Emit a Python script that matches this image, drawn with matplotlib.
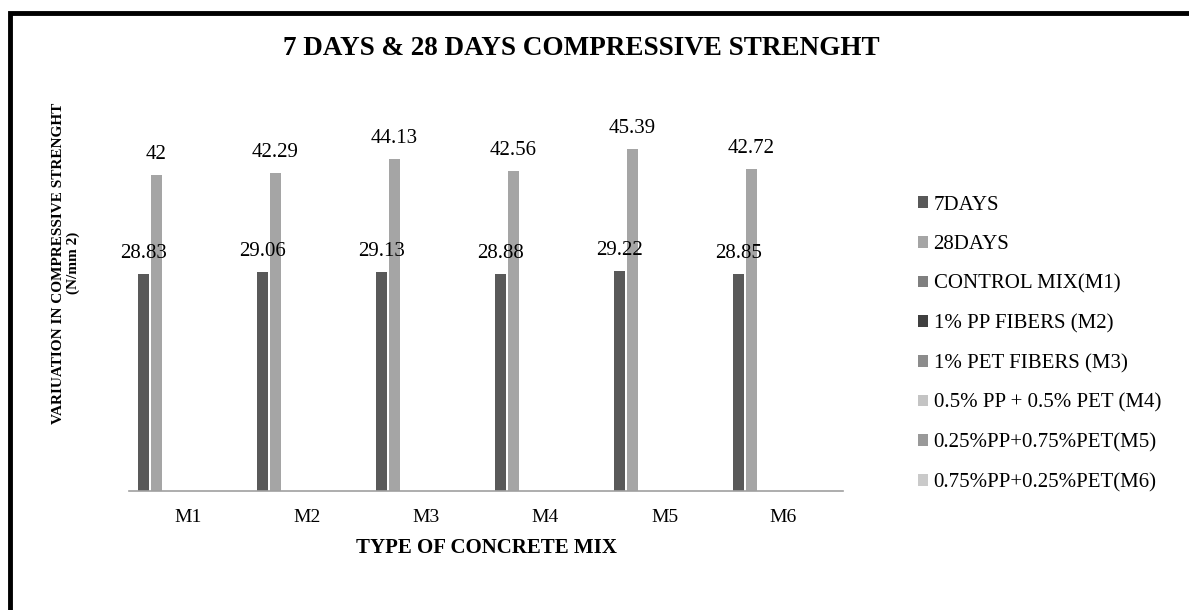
import numpy as np
import matplotlib.pyplot as plt
from matplotlib.patches import Rectangle

plt.rcParams['font.family'] = ['Liberation Serif', 'DejaVu Serif']

# ------------------------------ Data ------------------------------

mixes = ['M1', 'M2', 'M3', 'M4', 'M5', 'M6']
days7 = [28.83, 29.06, 29.13, 28.88, 29.22, 28.85]
days28 = [42, 42.29, 44.13, 42.56, 45.39, 42.72]

# the remaining series hold no values, they only show up in the legend
series_names = ['7DAYS', '28DAYS', 'CONTROL MIX(M1)', '1% PP FIBERS (M2)',
                '1% PET FIBERS (M3)', '0.5% PP + 0.5% PET (M4)',
                '0.25%PP+0.75%PET(M5)', '0.75%PP+0.25%PET(M6)']
series_values = [days7, days28] + [[0] * len(mixes)] * 6
series_colors = ['#595959', '#a5a5a5', '#7f7f7f', '#404040',
                 '#8c8c8c', '#c4c4c4', '#999999', '#cacaca']

# ------------------------------ Plotting ------------------------------

fig = plt.figure(figsize=(11.89, 6.10), dpi=100)
ax = fig.add_axes([0.1085, 0.195, 0.6005, 0.6173])

x = np.arange(len(mixes))
step = 0.109
width = 0.092
handles = []
for i, (name, vals, col) in enumerate(zip(series_names, series_values, series_colors)):
    bars = ax.bar(x + (i - 3.5) * step, vals, width, color=col, label=name, linewidth=0)
    handles.append(bars)
    if i < 2:
        for b, v in zip(bars, vals):
            ax.annotate(f'{v:g}', (b.get_x() + b.get_width() / 2, v),
                        xytext=(0, 11.5), textcoords='offset points',
                        ha='center', va='baseline', fontsize=15)

ax.set_xlim(-0.5, 5.5)
ax.set_ylim(0, 50)
ax.set_xticks(x)
ax.set_xticklabels(mixes, fontsize=14)
ax.tick_params(axis='x', length=0, pad=13)
ax.set_yticks([])
for s in ['top', 'right', 'left']:
    ax.spines[s].set_visible(False)
ax.spines['bottom'].set_color('#a0a0a0')
ax.spines['bottom'].set_linewidth(1.2)

ax.set_xlabel('TYPE OF CONCRETE MIX', fontsize=15, fontweight='bold', labelpad=8.5)

fig.text(66 / 1189, 0.569, 'VARIUATION IN COMPRESSIVE STRENGHT\n(N/mm 2)',
         rotation=90, ha='center', va='center', fontsize=11,
         fontweight='bold', linespacing=1.15)

fig.text(0.4886, 0.9098, '7 DAYS & 28 DAYS COMPRESSIVE STRENGHT',
         ha='center', va='baseline', fontsize=19.5, fontweight='bold')

fig.legend(handles=handles, loc='center left', bbox_to_anchor=(0.772, 0.436),
           frameon=False, fontsize=15, handlelength=0.5, handleheight=0.5,
           handletextpad=0.25, labelspacing=0.98, borderpad=0, borderaxespad=0)

# black frame around the chart area
fig.patches.append(Rectangle((9.5, -20), 1300, 617, transform=None,
                             fill=False, edgecolor='black', linewidth=3.5))

plt.savefig('out.png', dpi=100)
